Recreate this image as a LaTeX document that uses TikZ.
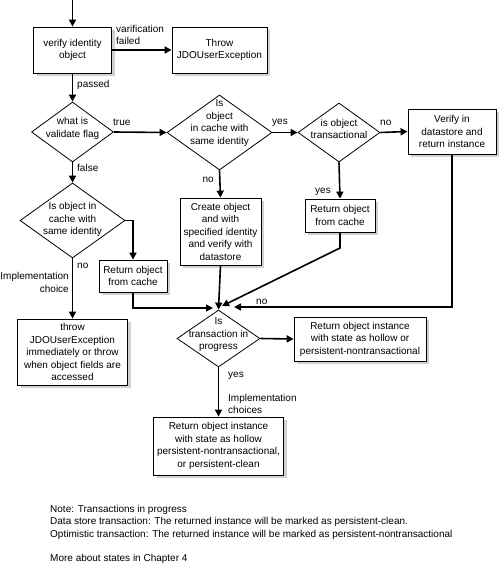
\documentclass[tikz,border=0pt]{standalone}
\usepackage{fontspec}
\setmainfont{Liberation Sans}
\usetikzlibrary{shapes.geometric,shadows,arrows.meta}
\begin{document}
\begin{tikzpicture}[x=1pt,y=-1pt,
  every node/.style={font=\fontsize{10}{12.5}\selectfont, inner sep=0pt},
  box/.style={draw, line width=0.8pt, fill=white, align=center,
    drop shadow={shadow xshift=3pt, shadow yshift=-3pt, fill=black!18, opacity=1}},
  dia/.style={draw, line width=0.8pt, diamond, inner sep=0pt},
  dtext/.style={align=center},
  lbl/.style={align=left, anchor=west},
  arr/.style={line width=1.6pt, -{Triangle[length=7pt,width=7pt]}}]
\useasboundingbox (0,0) rectangle (500,565);

% boxes
\node[box, minimum width=78pt, minimum height=46pt] (verify) at (72.5,50) {verify identity\\object};
\node[box, minimum width=95pt, minimum height=46pt] (throw1) at (219.5,50) {Throw\\JDOUserException};
\node[box, minimum width=88pt, minimum height=45pt] (verify2) at (452,131.5) {Verify in\\datastore and\\return instance};
\node[box, minimum width=81pt, minimum height=67pt] (create) at (220.5,231.5) {Create object\\and with\\specified identity\\and verify with\\datastore};
\node[box, minimum width=70pt, minimum height=33pt] (retcache1) at (340,215.5) {Return object\\from cache};
\node[box, minimum width=68pt, minimum height=32pt] (retcache2) at (133,276) {Return object\\from cache};
\node[box, minimum width=110pt, minimum height=66pt] (throw2) at (72.5,352) {throw\\JDOUserException\\immediately or throw\\when object fields are\\accessed};
\node[box, minimum width=132pt, minimum height=44pt] (retinst1) at (360,339) {Return object instance\\with state as hollow or\\persistent-nontransactional};
\node[box, minimum width=130pt, minimum height=58pt] (retinst2) at (218.5,446) {Return object instance\\with state as hollow\\persistent-nontransactional,\\or persistent-clean};

% diamonds
\node[dia, minimum width=82pt, minimum height=60pt] (d1) at (72.5,132) {};
\node[dtext] (d1t) at (72.5,128.5) {what is\\validate flag};
\node[dia, minimum width=105pt, minimum height=75pt] (d2) at (219.5,132.5) {};
\node[dtext] (d2t) at (219.5,123) {Is\\object\\in cache with\\same identity};
\node[dia, minimum width=82pt, minimum height=59pt] (d3) at (339,132.5) {};
\node[dtext] (d3t) at (339,129) {is object\\transactional};
\node[dia, minimum width=105pt, minimum height=75pt] (d4) at (72.5,220.5) {};
\node[dtext] (d4t) at (72.5,219.5) {Is object in\\cache with\\same identity};
\node[dia, minimum width=83pt, minimum height=57pt] (d5) at (218.5,338.5) {};
\node[dtext] (d5t) at (218.5,335) {Is\\transaction in\\progress};

% coordinates
\coordinate (start) at (72.5,0);
\coordinate (j1) at (213,308);
\coordinate (bend1) at (340,248);
\coordinate (j2) at (222,306);
\coordinate (j3) at (234,307);

% connectors
\draw[arr] (start) -- (verify.north);
\draw[arr] (verify.east) -- (throw1.west);
\draw[arr] (verify.south) -- (d1.north);
\draw[arr] (d1.east) -- (d2.west);
\draw[arr] (d2.east) -- (d3.west);
\draw[arr] (d3.east) -- (verify2.west);
\draw[arr] (d2.south) -- (create.north);
\draw[arr] (d3.south) -- (retcache1.north);
\draw[arr] (d1.south) -- (d4.north);
\draw[arr] (d4.east) -| (retcache2.north);
\draw[arr] (d4.south) -- (throw2.north);
\draw[arr] (retcache2.south) |- (j1);
\draw[arr] (create.south) -- (d5.north);
\draw[arr] (retcache1.south) -- (bend1) -- (j2);
\draw[arr] (verify2.south) |- (j3);
\draw[arr] (d5.east) -- (retinst1.west);
\draw[arr] (d5.south) -- (retinst2.north);

% labels
\node[lbl] (l1) at (116,35) {varification\\failed};
\node[lbl] (l2) at (77,85) {passed};
\node[lbl] (l3) at (113,122) {true};
\node[lbl] (l4) at (77,168) {false};
\node[anchor=east] (l5) at (214,180) {no};
\node[lbl] (l6) at (272,123) {yes};
\node[lbl] (l7) at (380,123) {no};
\node[anchor=east] (l8) at (331,192) {yes};
\node[lbl] (l9) at (77,266) {no};
\node[anchor=east, align=right] (l10) at (69,282.5) {Implementation\\choice};
\node[lbl] (l11) at (256,302) {no};
\node[lbl] (l12) at (228,376) {yes};
\node[lbl] (l13) at (228,404) {Implementation\\choices};

% notes
\node[lbl] (n1) at (50,522) {Note: Transactions in progress\\Data store transaction: The returned instance will be marked as persistent-clean.\\Optimistic transaction: The returned instance will be marked as persistent-nontransactional};
\node[lbl] (n2) at (50,559) {More about states in Chapter 4};
\end{tikzpicture}
\end{document}
